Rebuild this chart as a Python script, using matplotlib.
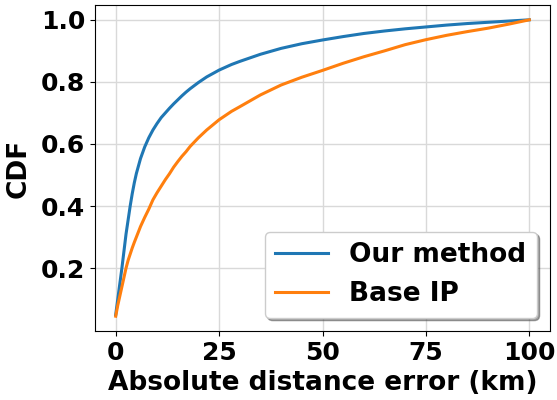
import numpy as np
import matplotlib
matplotlib.use("Agg")
import matplotlib.pyplot as plt

# absolute distance error (km) and the CDF of each method at those points
err_km = [0, 0.5, 1, 1.5, 2, 2.5, 3, 3.5, 4, 4.5, 5, 6, 7, 8, 9, 10, 11, 12, 13, 14, 15,
          16, 17, 18, 20, 22, 25, 28, 30, 35, 40, 45, 50, 55, 60, 65, 70, 75, 80, 85, 90,
          95, 100]
cdf_ours = [0.05, 0.10, 0.15, 0.20, 0.255, 0.31, 0.355, 0.40, 0.44, 0.475, 0.505, 0.553,
            0.59, 0.62, 0.645, 0.666, 0.685, 0.70, 0.715, 0.729, 0.742, 0.755, 0.767,
            0.778, 0.798, 0.816, 0.838, 0.856, 0.866, 0.889, 0.908, 0.923, 0.935, 0.946,
            0.956, 0.964, 0.971, 0.977, 0.983, 0.988, 0.992, 0.996, 1.0]
cdf_base = [0.045, 0.08, 0.11, 0.14, 0.17, 0.20, 0.225, 0.245, 0.265, 0.283, 0.30, 0.334,
            0.363, 0.39, 0.42, 0.443, 0.464, 0.485, 0.504, 0.525, 0.543, 0.56, 0.575,
            0.592, 0.62, 0.645, 0.678, 0.705, 0.72, 0.758, 0.79, 0.815, 0.837, 0.86,
            0.881, 0.90, 0.92, 0.936, 0.95, 0.962, 0.973, 0.986, 1.0]

plt.rcParams['font.weight'] = 'bold'
fig, ax = plt.subplots(figsize=(5.57, 4.0), dpi=100)
fig.subplots_adjust(left=0.1706, right=0.9874, top=0.9875, bottom=0.1725)

ax.plot(err_km, cdf_ours, color='C0', lw=2.2, label='Our method')
ax.plot(err_km, cdf_base, color='C1', lw=2.2, label='Base IP')
ax.grid(True, color='#d9d9d9', lw=1)
ax.set_axisbelow(True)
ax.set_xticks([0, 25, 50, 75, 100])
ax.set_yticks([0.2, 0.4, 0.6, 0.8, 1.0])
ax.tick_params(labelsize=18)
for lab in ax.get_xticklabels() + ax.get_yticklabels():
    lab.set_fontweight('bold')
ax.set_xlabel('Absolute distance error (km)', fontsize=19, fontweight='bold', labelpad=4)
ax.set_ylabel('CDF', fontsize=19, fontweight='bold', labelpad=7)
ax.legend(loc='lower right', shadow=True, fancybox=True,
          prop={'weight': 'bold', 'size': 19})

fig.savefig("out.png", dpi=100)
